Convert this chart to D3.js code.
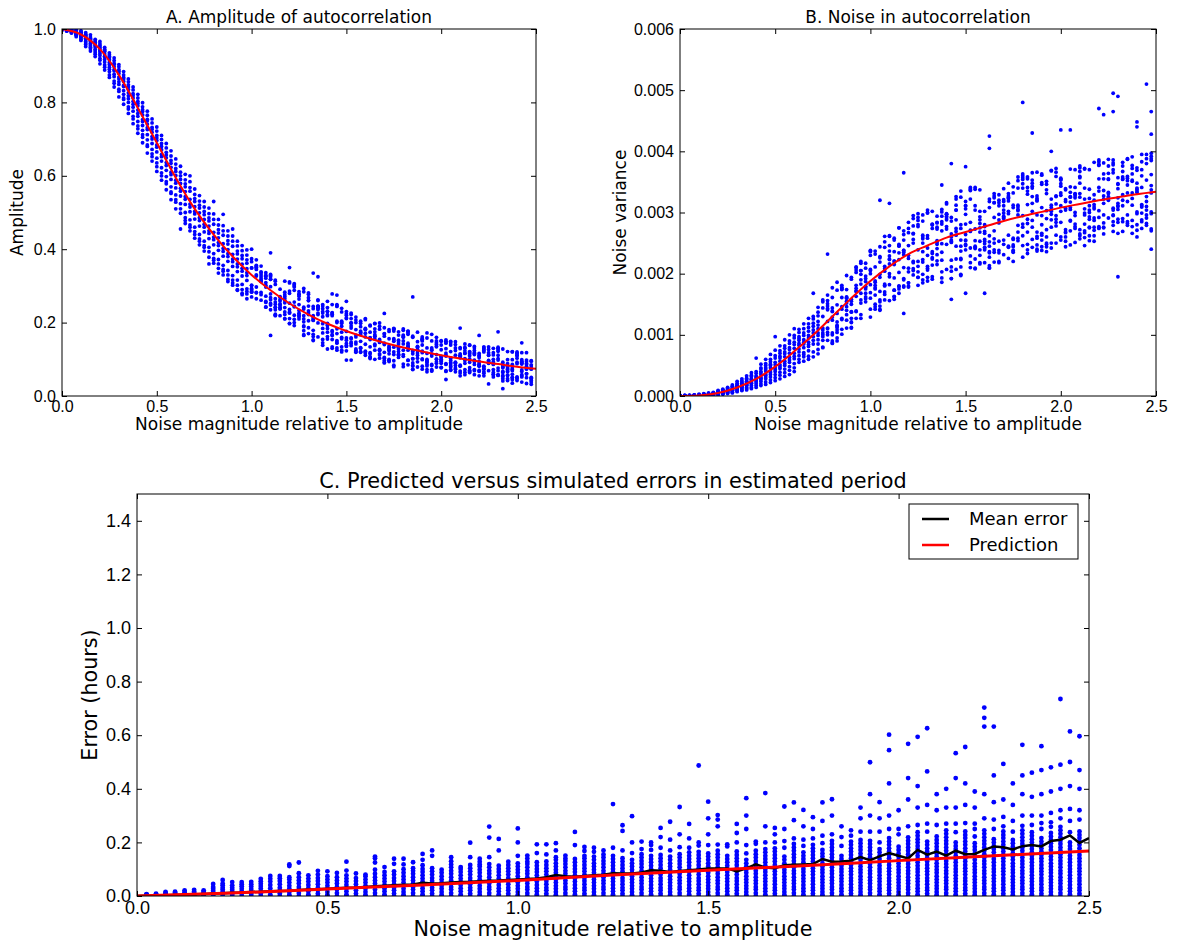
<!DOCTYPE html>
<html>
<head>
<meta charset="utf-8">
<script src="https://cdn.jsdelivr.net/npm/d3@7"></script>
<style>
  body { margin: 0; background: #fff; }
  svg { font-family: "DejaVu Sans", sans-serif; }
</style>
</head>
<body>
<svg id="fig" width="1184" height="944"></svg>
<script>
// noise magnitude relative to amplitude (simulation grid)
var noiseLevels = [0,0.025,0.05,0.075,0.1,0.125,0.15,0.175,0.2,0.225,0.25,0.275,0.3,0.325,0.35,0.375,0.4,0.425,0.45,0.475,
  0.5,0.525,0.55,0.575,0.6,0.625,0.65,0.675,0.7,0.725,0.75,0.775,0.8,0.825,0.85,0.875,0.9,0.925,0.95,0.975,
  1.0,1.025,1.05,1.075,1.1,1.125,1.15,1.175,1.2,1.225,1.25,1.275,1.3,1.325,1.35,1.375,1.4,1.425,1.45,1.475,
  1.5,1.525,1.55,1.575,1.6,1.625,1.65,1.675,1.7,1.725,1.75,1.775,1.8,1.825,1.85,1.875,1.9,1.925,1.95,1.975,
  2.0,2.025,2.05,2.075,2.1,2.125,2.15,2.175,2.2,2.225,2.25,2.275,2.3,2.325,2.35,2.375,2.4,2.425,2.45,2.475,2.5];

var xTicks = [0, 0.5, 1.0, 1.5, 2.0, 2.5];
var ampTicks = [0, 0.2, 0.4, 0.6, 0.8, 1.0];
var noiseTicks = [0, 0.001, 0.002, 0.003, 0.004, 0.005, 0.006];
var errTicks = [0, 0.2, 0.4, 0.6, 0.8, 1.0, 1.2, 1.4];

// predicted curves
var curveX = [0,0.1,0.2,0.3,0.4,0.5,0.6,0.7,0.8,0.9,1.0,1.1,1.2,1.3,1.4,1.5,1.6,1.7,1.8,1.9,2.0,2.1,2.2,2.3,2.4,2.5];
var ampPredicted = [1.0,0.985,0.945,0.875,0.785,0.69,0.595,0.51,0.44,0.38,0.33,0.288,0.252,0.222,0.197,0.177,0.16,0.145,0.132,0.121,0.111,0.102,0.094,0.087,0.08,0.074];
var noisePredicted = [0,0.00001,0.00005,0.00014,0.00028,0.00048,0.00073,0.001,0.0013,0.0016,0.00188,0.00212,0.00232,0.00246,0.00259,0.00268,0.00277,0.00286,0.00294,0.00301,0.00308,0.00314,0.0032,0.00325,0.0033,0.00334];
var predX = [0,0.25,0.5,0.75,1.0,1.25,1.5,1.75,2.0,2.25,2.5];
var errPredicted = [0,0.011,0.026,0.041,0.058,0.078,0.096,0.113,0.132,0.150,0.168];

// mean simulated error (x1000), one per noise level 0..2.5
var meanError = [0,1,2,3,4,5,6,7,9,10,12,13,15,16,18,19,20,22,24,25,
  27,29,31,32,34,36,38,40,42,43,49,47,48,50,52,53,55,57,58,60,
  62,63,65,70,78,74,72,75,77,79,85,84,84,88,96,94,90,93,96,99,
  103,103,103,92,103,118,106,104,115,117,118,119,138,128,129,132,145,134,148,160,
  150,140,172,154,166,151,169,156,157,172,185,182,174,186,190,185,205,210,226,198,216];

// A: simulated amplitude (x1000), one column per noise level 0..2.475
var ampPoints = [
[1000,999,1000,998,1000,999,1000,997,1000,999,1000,998],[997,1000,998,995,999,1000,996,998,999,994,1000,997],
[993,999,996,990,998,995,992,1000,997,994,989,996],[985,995,991,998,983,993,988,996,986,992,979,990],
[976,991,984,995,972,987,980,993,978,985,969,988],[966,983,975,990,958,979,971,986,962,974,981,952],
[954,975,961,984,946,969,957,978,950,966,940,972],[940,967,951,972,935,958,945,964,931,955,925,962],
[928,951,942,966,920,947,933,960,915,939,955,905],[910,939,924,950,902,932,917,945,896,926,941,888],
[890,926,903,935,884,916,896,930,875,909,922,868],[870,907,886,921,858,897,877,914,852,889,903,842],
[849,889,864,903,836,879,856,897,830,869,885,815],[822,868,843,884,812,857,832,875,808,846,864,795],
[800,848,818,864,788,835,810,856,782,826,842,770],[776,824,795,842,762,812,787,834,755,803,819,742],
[748,803,770,822,736,791,762,812,728,779,798,716],[724,780,748,799,712,766,737,788,705,753,775,690],
[698,754,726,776,684,741,712,765,680,731,750,662],[672,732,700,755,660,719,688,744,652,707,727,640],
[648,710,678,733,635,696,665,722,625,684,703,612],[622,688,652,710,608,671,640,699,600,658,680,588],
[598,664,628,688,584,649,615,676,578,636,657,562],[570,642,603,668,556,623,590,654,552,610,634,535],
[548,620,580,646,535,601,567,632,528,588,612,510],[524,600,558,626,510,579,545,610,455,566,590,498],
[500,578,536,604,486,557,522,589,478,543,570,470],[480,558,515,584,466,536,502,568,460,523,600,450],
[460,538,496,564,448,516,482,549,440,503,530,430],[440,520,478,546,428,499,463,531,422,486,512,412],
[422,503,460,530,410,481,447,515,405,468,494,395],[405,485,443,512,393,463,429,497,360,450,477,378],
[388,468,426,496,375,446,412,481,370,433,530,362],[372,453,410,481,360,431,397,466,335,418,444,348],
[356,438,394,464,345,415,381,450,340,402,495,330],[342,423,380,450,330,399,367,436,312,388,414,318],
[328,408,366,436,316,386,353,422,308,373,455,302],[316,395,352,422,302,373,339,409,290,360,387,288],
[304,383,340,410,290,359,327,396,280,348,374,276],[292,371,328,398,278,347,315,384,285,336,362,265],
[290,284,301,366,349,286,270,293,302,374,349,283,400],[353,349,371,345,282,327,356,281,330,351,265,297],
[338,313,330,336,261,319,315,282,324,354,276,312],[258,329,321,255,326,242,309,336,302,297,243,272],
[318,262,331,298,318,268,252,328,325,278,235,248,165,390],[250,242,256,241,316,304,220,219,223,235,313,265],
[245,240,259,271,237,219,239,249,262,291,269,251],[211,276,222,271,260,229,254,313,266,241,283,210],
[236,227,286,197,311,253,198,308,229,280,226,211,350],[220,303,256,245,288,192,209,200,243,297,306,300],
[284,224,216,225,277,249,277,219,210,272,233,264],[284,210,219,165,293,237,178,191,202,167,189,242],
[227,281,268,205,170,222,260,186,260,245,277,232],[244,168,238,207,162,151,179,214,219,206,153,210,335],
[244,161,199,242,244,260,222,262,239,226,236,245,325],[138,145,226,154,230,197,172,184,216,245,238,249],
[230,162,241,219,194,155,192,231,222,184,198,174,128,258],[249,175,130,227,134,178,154,219,226,165,167,223,278],
[244,204,246,151,183,170,147,131,125,144,249,200,275],[204,160,198,174,125,190,200,156,229,120,134,239],
[220,135,152,224,211,213,123,143,176,138,230,158,98,258],[158,226,185,198,222,191,156,137,211,200,147,143,98],
[215,142,125,200,147,119,128,207,166,121,161,181],[149,172,174,177,130,167,119,132,204,121,189,198],
[120,181,161,208,122,117,171,211,141,111,184,182],[102,115,134,159,107,154,191,105,174,158,118,193],
[125,141,197,175,155,167,137,183,198,162,100,163],[127,154,190,112,146,182,150,103,115,199,124,125],
[119,92,144,105,103,170,169,140,186,90,163,97,225],[123,181,97,136,133,115,156,176,100,129,126,94],
[113,96,84,182,183,133,153,177,156,184,120,149,80],[128,147,111,132,142,133,105,121,175,166,114,152],
[179,80,166,183,125,108,163,87,160,150,142,113],[176,168,97,85,135,139,144,125,98,177,172,133],
[115,160,102,124,83,90,121,73,163,82,101,72,270],[79,111,117,135,174,124,133,93,103,148,127,134],
[73,153,156,81,154,161,122,101,150,99,139,118],[94,131,72,172,158,97,66,116,91,100,86,82],
[72,125,83,168,115,109,126,86,69,150,131,68],[100,93,145,113,89,150,79,136,134,101,160,141],
[77,78,151,126,97,149,139,94,100,108,89,105],[109,117,112,129,67,69,149,88,153,147,86,144,45],
[79,103,139,97,145,70,82,149,91,88,72,121],[124,89,83,111,131,148,66,73,91,92,76,140],
[55,108,132,81,68,104,115,111,63,84,129,109,185],[102,89,97,123,130,133,117,116,142,58,65,72],
[92,118,77,121,101,138,67,70,110,139,64,115],[93,86,98,72,118,116,135,113,69,124,131,58],
[116,81,70,85,109,110,88,55,104,67,84,94,165],[131,66,120,81,62,74,55,134,128,73,124,79],
[118,134,69,90,96,112,91,127,97,92,111,89,33],[72,100,58,130,52,90,59,93,118,112,86,64],
[102,111,130,126,133,69,122,57,98,56,76,58,175],[82,128,56,77,86,53,47,79,67,92,64,41,20],
[47,68,42,66,88,121,56,81,99,57,73,76],[86,44,51,49,69,76,99,120,59,121,72,35],
[47,88,110,103,117,50,52,120,42,92,111,116],[89,55,118,71,58,67,52,87,99,38,92,95,145],
[76,88,34,81,60,93,73,50,61,118,87,98],[96,48,47,38,42,82,75,85,95,51,73,32]
];

// B: simulated noise variance (x100000), one column per noise level 0..2.475
var noisePoints = [
[0,0,0,1,0,0,0,0,1,0,0,0],[0,1,0,0,0,1,0,0,0,0,1,0],[0,0,1,0,1,0,0,1,0,0,0,1],[0,1,0,1,2,0,1,0,1,0,1,2],
[0,1,2,1,0,2,1,3,1,0,2,1],[1,2,0,3,1,2,4,1,2,0,3,1],[1,3,2,0,4,2,3,1,5,2,1,3],[2,4,1,5,3,2,6,3,1,4,2,5],
[3,6,4,8,2,5,7,4,9,3,6,5],[4,8,5,10,3,7,6,9,4,11,5,7],[5,10,7,13,4,9,8,12,6,14,8,10],
[6,13,9,16,5,11,10,15,8,18,9,12],[8,17,12,21,7,15,13,19,10,24,12,16],[10,21,15,25,9,18,16,23,12,28,14,20],
[12,24,18,29,10,22,19,27,14,33,17,23],[14,28,21,34,12,26,23,32,17,38,20,27],[17,33,25,40,14,30,27,37,20,62,23,31],
[20,38,29,46,17,35,31,44,24,52,27,40],[23,44,34,53,19,41,36,50,28,60,31,46],[26,50,38,60,22,46,41,56,31,68,35,52],
[30,55,43,66,25,51,46,62,35,75,40,97],[34,62,48,74,28,57,51,70,39,82,45,65],[38,69,53,82,32,64,57,78,44,92,50,72],
[42,76,59,90,35,70,63,86,48,100,55,79],[46,84,65,99,40,78,70,95,53,110,61,88],
[66,97,83,55,104,72,91,60,86,109,77,94],[103,71,92,118,64,85,99,57,110,79,88,68],
[81,112,65,99,127,88,74,106,95,60,118,84],[119,85,168,97,72,130,108,91,64,114,103,126],
[92,131,76,116,103,145,85,122,69,110,137,99],
[79,80,157,130,100,154,144,97,103,111,91,108],[110,104,151,122,100,156,91,143,141,111,165,147,232],
[90,138,100,177,129,124,139,103,87,161,144,86],[115,149,95,186,173,115,90,135,112,121,108,104],
[101,174,177,109,175,181,146,127,177,125,161,142],[111,140,146,162,197,152,160,124,133,174,155,161],
[150,191,138,158,121,127,155,112,194,120,137,111],[210,202,138,127,172,176,181,163,139,211,206,171],
[217,127,205,220,168,152,205,133,199,190,183,157],[175,192,159,178,187,179,154,168,217,209,162,196],
[160,142,129,236,237,182,205,230,207,238,169,200],[175,237,146,188,186,165,211,232,150,181,177,142],
[171,142,199,157,154,228,226,194,244,140,219,147,320],[183,212,252,166,204,243,208,157,170,261,180,181],
[182,200,261,237,216,229,195,246,262,223,156,224,315],[158,173,193,221,163,215,255,162,236,219,173,258],
[179,245,223,275,180,175,234,275,202,168,248,246],[210,235,238,238,190,231,178,192,270,180,255,264,365,135],
[284,203,185,267,209,178,185,274,230,180,225,246],[220,295,250,265,290,256,218,198,278,266,208,205],
[287,194,212,292,277,280,181,203,239,194,298,220],[263,223,257,236,190,250,260,219,286,185,199,296],
[299,262,300,212,242,230,209,194,188,206,304,258],[302,233,191,281,195,236,214,274,280,224,226,280],
[283,221,294,273,251,215,248,284,276,241,254,231],
[186,193,281,203,285,249,222,235,270,301,294,305,345],[297,207,248,294,297,314,273,316,291,277,288,298],
[292,211,286,253,204,192,222,260,265,251,192,255,158,380],[269,326,312,245,207,263,304,224,304,288,322,274],
[325,245,255,197,335,274,211,225,237,199,223,280],[318,254,246,255,311,281,311,248,239,306,264,297,168,375],
[242,339,284,271,322,210,229,218,269,336,341,337],[254,243,311,208,341,273,209,338,245,304,241,224],
[218,293,230,288,275,239,268,337,282,253,302,216],[249,243,266,280,239,218,242,253,269,302,277,256,168],
[245,236,252,234,322,308,210,209,213,227,318,262,425,405],[316,250,331,292,316,257,239,327,324,270,219,235],
[238,320,311,234,316,218,297,329,288,283,220,253],[321,292,311,318,231,299,294,255,304,339,248,290],
[327,323,348,319,245,298,331,243,302,325,225,263],[244,237,256,332,312,238,220,247,258,342,308,235],
[279,305,258,296,303,358,352,254,340,309,312,268],[340,262,357,227,347,281,360,246,354,363,276,295,480],
[233,341,239,330,358,289,355,268,335,248,282,313],[348,256,353,365,315,340,276,343,302,287,243,326,430],
[323,366,258,296,240,320,247,268,261,237,319,327],[361,349,295,244,308,238,346,263,255,266,280,363],
[244,250,351,346,248,337,303,272,290,236,331,260],[288,308,250,242,312,369,297,322,276,302,368,304,400],
[278,289,263,326,295,359,250,372,314,327,366,284],[302,255,356,343,328,353,284,347,332,354,260,311,435],
[339,268,267,253,260,318,307,321,337,272,304,244],[305,326,247,317,286,333,308,270,287,371,325,342,435],
[327,274,370,300,281,295,277,324,341,251,330,331],[262,325,357,348,367,265,272,373,257,331,359,376],
[322,259,270,267,296,306,340,371,281,372,299,246],[262,293,254,289,323,370,275,311,338,276,300,304],
[313,382,276,306,320,271,262,309,291,329,287,253],[341,355,383,377,386,292,379,275,335,274,303,277,470],
[296,336,275,381,265,322,276,327,363,355,315,283,460],[364,387,291,322,331,355,324,376,333,326,354,320],
[381,285,365,307,279,296,269,386,378,295,370,304,495,465],[357,305,289,311,346,347,315,266,339,284,310,324,195,490],
[320,311,329,290,358,355,382,354,285,367,376,269],[318,356,296,359,332,387,282,279,345,388,285,352],
[332,312,323,363,372,377,353,351,391,266,277,287],[260,335,373,301,280,333,348,338,271,298,369,340,440,448],
[360,309,299,341,370,395,274,285,311,313,288,383],[291,326,380,318,388,279,296,395,310,304,282,353,510],
[332,344,337,362,270,273,392,301,397,385,298,388,240,465,428]
];

// C: simulated period error in hours (x1000), one column per noise level 0.025..2.475
var errPoints = [
[0,2,4,7,1,5],[0,3,6,9,2,5],[0,4,8,12,15,2],[0,5,9,13,16,3],[0,5,10,15,21,8],[0,6,12,17,23,3],[0,5,11,16,21,8],
[0,6,13,20,27,34,45],[0,8,16,24,31,40,47,60],[0,7,15,23,31,40,52],[0,9,18,27,36,44,52],[0,8,17,26,35,44,53],
[0,9,18,28,37,46,55,64],[0,6,18,29,41,54,64,75],[0,9,21,31,44,56,66,75],[0,4,15,27,38,50,62,70,112,118],
[0,11,24,34,47,58,70,85,125],[0,6,18,29,41,54,65,77],[0,9,21,31,44,56,67,80,94],[0,4,15,27,38,50,62,74,92],
[0,11,24,34,47,58,70,86],[0,6,18,29,41,54,65,77,95,128],[0,9,21,31,44,56,67,84],[0,4,15,27,38,50,62,74,80],
[0,11,24,34,47,58,70,83,98,125,141,147],[0,6,18,29,41,54,65,77,90,108],[0,9,21,31,44,56,67,80,92,120,139],
[0,4,15,27,38,50,62,74,87,100,118,139],[0,11,24,34,47,58,70,83,94,104,126],[0,6,18,29,41,54,65,77,90,101,115,135,157],
[0,9,21,31,44,56,67,80,92,104,150,170],[0,4,15,27,38,50,62,74,87,98],[0,11,24,34,47,58,70,83,94,107,118,130,145],
[0,6,18,29,41,54,65,77,90,101,108],[0,9,21,31,44,56,67,80,92,104,116,145,199],[0,4,15,27,38,50,62,74,87,98,110,118,128,139],
[0,11,24,34,47,58,70,83,94,107,119,145,218,259],[0,6,18,29,41,54,65,77,90,101,113,170,213],[0,9,21,31,44,56,67,80,92,104,116,128],
[0,4,15,27,38,50,62,74,87,98,110,122,150,200,252],[0,11,24,34,47,58,70,83,94,107,119,128,140,151],
[0,6,18,29,41,54,65,77,90,101,113,126,160,193],[0,9,21,31,44,56,67,80,92,104,116,129,155,193],
[0,4,15,27,38,50,62,74,87,98,110,122,135,145,170,197],[0,11,24,34,47,58,70,83,94,107,119,131,140,151],
[0,6,18,29,41,54,65,77,90,101,113,126,138,190,239],[0,9,21,31,44,56,67,80,92,104,116,129,141,150,168,183],
[0,4,15,27,38,50,62,74,87,98,110,122,135,147,165,180],[0,11,24,34,47,58,70,83,94,107,119,131,144,155,170],
[0,6,18,29,41,54,65,77,90,101,113,126,138,150,180,343],[0,9,21,31,44,56,67,80,92,104,116,129,141,170,243,264],
[0,4,15,27,38,50,62,74,87,98,110,122,135,160,200,298],[0,11,24,34,47,58,70,83,94,107,119,131,144,156,175,203],
[0,6,18,29,41,54,65,77,90,101,113,126,138,150,172,190,200],[0,9,21,31,44,56,67,80,92,104,116,129,141,153,180,220,254],
[0,4,15,27,38,50,62,74,87,98,110,122,135,147,170,210,277],[0,11,24,34,47,58,70,83,94,107,119,131,144,156,182,230,332],
[0,6,18,29,41,54,65,77,90,101,113,126,138,150,163,180,215,269],[0,9,21,31,44,56,67,80,92,104,116,129,141,153,165,188,200,487],
[0,4,15,27,38,50,62,74,87,98,110,122,135,147,159,190,230,290,352],[0,11,24,34,47,58,70,83,94,107,119,131,144,156,169,192,260,285,302],
[0,6,18,29,41,54,65,77,90,101,113,126,138,150,185,193],[0,9,21,31,44,56,67,80,92,104,116,129,141,153,166,200,235,269],
[0,4,15,27,38,50,62,74,87,98,110,122,135,159,190,250,300,365],[0,11,24,34,47,58,70,83,94,107,119,131,144,156,169,195,203],
[0,6,18,29,41,54,65,77,90,101,113,126,138,150,163,175,200,260,384],[0,9,21,31,44,56,67,80,92,104,116,129,141,153,166,178,200,230,254],
[0,4,15,27,38,50,62,74,87,98,110,122,135,147,180,205,250,334],[0,11,24,34,47,58,70,83,94,107,119,131,144,156,169,181,194,215,283,349],
[0,6,18,29,41,54,65,77,90,101,113,126,138,150,163,187,210,260,321],[0,9,21,31,44,56,67,80,92,104,116,129,141,153,166,178,191,215,250,294],
[0,4,15,27,38,50,62,74,87,98,110,122,135,147,159,172,197,225,280,349],[0,11,24,34,47,58,70,83,94,107,119,131,144,156,169,181,194,206,230,300,361],
[0,6,18,29,41,54,65,77,90,101,113,126,138,150,187,220,260],[0,9,21,31,44,56,67,80,92,104,116,129,141,153,166,178,191,203,225,245],
[0,4,15,27,38,50,62,74,87,98,110,122,135,147,159,172,184,197,209,240,290,330],[0,11,24,34,47,58,70,83,94,107,119,131,144,156,169,181,194,206,240,300,380,499],
[0,6,18,29,41,54,65,77,90,101,113,126,138,150,163,175,200,240,290,350],[0,9,21,31,44,56,67,80,92,104,116,129,141,153,166,178,191,203,216,250,300,420,544,602],
[0,4,15,27,38,50,62,74,87,98,110,122,135,147,159,172,184,230,250,320],[0,11,24,34,47,58,70,83,94,107,119,131,144,156,169,181,194,206,219,260,360,440,568],
[0,6,18,29,41,54,65,77,90,101,113,126,138,150,163,175,187,200,212,225,238,265,330,410,594],[0,9,21,31,44,56,67,80,92,104,116,129,141,153,166,178,191,203,240,270,340,465,626],
[0,4,15,27,38,50,62,74,87,98,110,122,135,147,159,172,184,197,209,222,265,320,380],[0,11,24,34,47,58,70,83,94,107,119,131,144,156,169,181,194,206,219,232,245,270,330,400],
[0,6,18,29,41,54,65,77,90,101,113,126,138,150,163,175,187,200,238,270,330,440,533],[0,9,21,31,44,56,67,80,92,104,116,129,141,153,166,178,191,203,216,228,241,272,340,420,556],
[0,4,15,27,38,50,62,74,87,98,110,122,135,147,159,172,184,197,222,250,270,330,390],[0,11,24,34,47,58,70,83,94,107,119,131,144,156,169,181,194,206,219,232,245,290,380,632,665,703],
[0,6,18,29,41,54,65,77,90,101,113,126,138,150,163,175,187,200,212,250,285,350,450,632],[0,9,21,31,44,56,67,80,92,104,116,129,141,153,166,178,191,203,216,228,241,260,295,360,493],
[0,4,15,27,38,50,62,74,87,98,110,122,135,147,159,172,184,197,209,240,280,340,420],[0,11,24,34,47,58,70,83,94,107,119,131,144,156,169,181,194,206,219,232,245,262,300,380,450,564],
[0,6,18,29,41,54,65,77,90,101,113,126,138,150,163,175,187,200,212,225,238,265,300,370,460],[0,9,21,31,44,56,67,80,92,104,116,129,141,153,166,178,191,203,216,250,272,300,380,470,559],
[0,4,15,27,38,50,62,74,87,98,110,122,135,147,159,172,184,197,209,222,235,258,275,310,390,480],[0,11,24,34,47,58,70,83,94,107,119,131,144,156,169,181,194,206,219,232,245,258,290,320,400,490,735],
[0,6,18,29,41,54,65,77,90,101,113,126,138,150,163,175,187,200,238,280,325,410,500,614],[0,9,21,31,44,56,67,80,92,104,116,129,141,153,166,178,191,203,216,228,241,285,320,400,470,596]
];

var svg = d3.select("#fig");

function makePanel(box, yDomain, yTicks, yFormat, fs) {
  var w = box.right - box.left, h = box.bottom - box.top;
  var g = svg.append("g").attr("transform", "translate(" + box.left + "," + box.top + ")");
  var x = d3.scaleLinear().domain([0, 2.5]).range([0, w]);
  var y = d3.scaleLinear().domain(yDomain).range([h, 0]);
  var id = "clip" + box.left + "_" + box.top;
  g.append("clipPath").attr("id", id).append("rect").attr("width", w).attr("height", h);
  var plot = g.append("g").attr("clip-path", "url(#" + id + ")");

  function style(sel, labels) {
    sel.select(".domain").remove();
    sel.selectAll(".tick line").attr("stroke", "#000");
    sel.selectAll(".tick text").attr("fill", "#000").style("font-size", fs.tick + "px");
    if (!labels) sel.selectAll(".tick text").remove();
  }
  g.append("g").attr("transform", "translate(0," + h + ")")
    .call(d3.axisBottom(x).tickValues(xTicks).tickFormat(d3.format(".1f")).tickSizeInner(-5).tickSizeOuter(0).tickPadding(5))
    .call(style, true);
  g.append("g")
    .call(d3.axisTop(x).tickValues(xTicks).tickSizeInner(-5).tickSizeOuter(0))
    .call(style, false);
  g.append("g")
    .call(d3.axisLeft(y).tickValues(yTicks).tickFormat(d3.format(yFormat)).tickSizeInner(-5).tickSizeOuter(0).tickPadding(6))
    .call(style, true);
  g.append("g").attr("transform", "translate(" + w + ",0)")
    .call(d3.axisRight(y).tickValues(yTicks).tickSizeInner(-5).tickSizeOuter(0))
    .call(style, false);

  return { g: g, plot: plot, x: x, y: y, w: w, h: h };
}

function frame(p) {
  p.g.append("rect").attr("width", p.w).attr("height", p.h)
    .attr("fill", "none").attr("stroke", "#000").attr("stroke-width", 1);
}

function texts(p, title, xlab, ylab, yoff, fs) {
  p.g.append("text").attr("x", p.w / 2).attr("y", -6).attr("text-anchor", "middle")
    .style("font-size", fs.title + "px").text(title);
  p.g.append("text").attr("x", p.w / 2).attr("y", p.h + fs.xoff).attr("text-anchor", "middle")
    .style("font-size", fs.label + "px").text(xlab);
  p.g.append("text").attr("transform", "translate(" + (-yoff) + "," + (p.h / 2) + ") rotate(-90)")
    .attr("text-anchor", "middle").style("font-size", fs.label + "px").text(ylab);
}

function columnsToPoints(cols, xIndexOffset, scale) {
  var pts = [];
  cols.forEach(function(col, i) {
    col.forEach(function(v) { pts.push([noiseLevels[i + xIndexOffset], v / scale]); });
  });
  return pts;
}

var smallFs = { tick: 16, label: 17, title: 17, xoff: 34 };
var bigFs = { tick: 18, label: 20.7, title: 20.8, xoff: 40 };

// ---- Panel A
var pA = makePanel({ left: 62, right: 536, top: 29, bottom: 396 }, [0, 1], ampTicks, ".1f", smallFs);
pA.plot.selectAll("circle").data(columnsToPoints(ampPoints, 0, 1000)).enter().append("circle")
  .attr("cx", function(d) { return pA.x(d[0]); })
  .attr("cy", function(d) { return pA.y(d[1]); })
  .attr("r", 1.9).attr("fill", "#0000ff");
pA.plot.append("path")
  .datum(d3.zip(curveX, ampPredicted))
  .attr("d", d3.line().x(function(d) { return pA.x(d[0]); }).y(function(d) { return pA.y(d[1]); }).curve(d3.curveMonotoneX))
  .attr("fill", "none").attr("stroke", "#ff0000").attr("stroke-width", 2);
frame(pA);
texts(pA, "A. Amplitude of autocorrelation", "Noise magnitude relative to amplitude", "Amplitude", 39, smallFs);

// ---- Panel B
var pB = makePanel({ left: 680, right: 1156, top: 29, bottom: 396 }, [0, 0.006], noiseTicks, ".3f", smallFs);
pB.plot.selectAll("circle").data(columnsToPoints(noisePoints, 0, 100000)).enter().append("circle")
  .attr("cx", function(d) { return pB.x(d[0]); })
  .attr("cy", function(d) { return pB.y(d[1]); })
  .attr("r", 1.9).attr("fill", "#0000ff");
pB.plot.append("path")
  .datum(d3.zip(curveX, noisePredicted))
  .attr("d", d3.line().x(function(d) { return pB.x(d[0]); }).y(function(d) { return pB.y(d[1]); }).curve(d3.curveMonotoneX))
  .attr("fill", "none").attr("stroke", "#ff0000").attr("stroke-width", 2);
frame(pB);
texts(pB, "B. Noise in autocorrelation", "Noise magnitude relative to amplitude", "Noise variance", 54, smallFs);

// ---- Panel C
var pC = makePanel({ left: 137, right: 1089, top: 494, bottom: 896 }, [0, 1.5], errTicks, ".1f", bigFs);
pC.plot.selectAll("circle").data(columnsToPoints(errPoints, 1, 1000)).enter().append("circle")
  .attr("cx", function(d) { return pC.x(d[0]); })
  .attr("cy", function(d) { return pC.y(d[1]); })
  .attr("r", 2.4).attr("fill", "#0000ff");
pC.plot.append("path")
  .datum(d3.zip(noiseLevels, meanError.map(function(v) { return v / 1000; })))
  .attr("d", d3.line().x(function(d) { return pC.x(d[0]); }).y(function(d) { return pC.y(d[1]); }))
  .attr("fill", "none").attr("stroke", "#000").attr("stroke-width", 2.5);
pC.plot.append("path")
  .datum(d3.zip(predX, errPredicted))
  .attr("d", d3.line().x(function(d) { return pC.x(d[0]); }).y(function(d) { return pC.y(d[1]); }).curve(d3.curveMonotoneX))
  .attr("fill", "none").attr("stroke", "#ff0000").attr("stroke-width", 3);
frame(pC);
texts(pC, "C. Predicted versus simulated errors in estimated period", "Noise magnitude relative to amplitude", "Error (hours)", 40, bigFs);

// legend
var legendItems = [{ label: "Mean error", color: "#000" }, { label: "Prediction", color: "#ff0000" }];
var lg = pC.g.append("g").attr("transform", "translate(" + (909 - 137) + "," + (504 - 494) + ")");
lg.append("rect").attr("width", 169).attr("height", 55).attr("fill", "#fff").attr("stroke", "#000");
legendItems.forEach(function(it, i) {
  var yy = 15 + i * 26;
  lg.append("line").attr("x1", 13).attr("x2", 40).attr("y1", yy).attr("y2", yy)
    .attr("stroke", it.color).attr("stroke-width", 2.5);
  lg.append("text").attr("x", 60).attr("y", yy).attr("dy", "0.35em")
    .style("font-size", "18px").text(it.label);
});
</script>
</body>
</html>
